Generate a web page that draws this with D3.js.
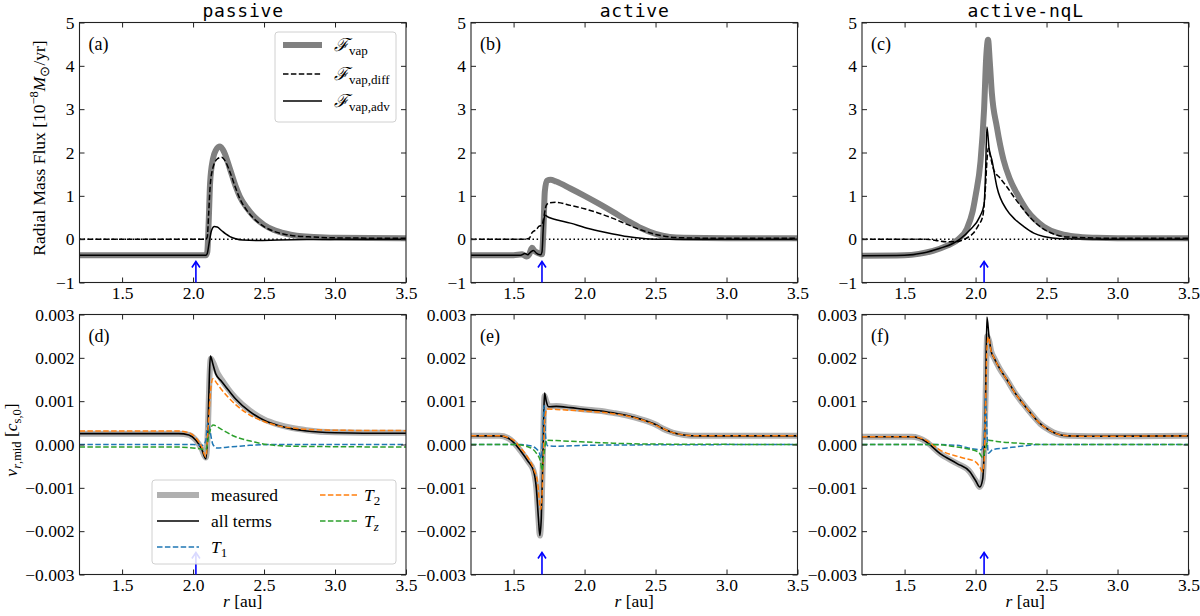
<!DOCTYPE html>
<html><head><meta charset="utf-8">
<script src="https://cdn.jsdelivr.net/npm/d3@7"></script>
<style>
body{margin:0;background:#fff;}
svg text{font-family:"Liberation Serif","Times New Roman",serif;fill:#000;}
</style></head><body>
<svg id="chart" width="1200" height="616"></svg>
<script>
// ---- data ----
const panelTitles = ['passive', 'active', 'active-nqL'];
const topLabels = ['(a)', '(b)', '(c)'];
const bottomLabels = ['(d)', '(e)', '(f)'];
const xTicks = [1.5, 2.0, 2.5, 3.0, 3.5];
const fluxTicks = [-1, 0, 1, 2, 3, 4, 5];
const velTicks = [-0.003, -0.002, -0.001, 0, 0.001, 0.002, 0.003];
const snowlineR = [2.02, 1.70, 2.06];

// top row: radial mass flux [1e-8 Msun/yr]
const passiveTot = [[1.2,-0.37],[2.09,-0.37],[2.10,-0.3],[2.11,0.4],[2.12,1.3],[2.14,1.85],[2.16,2.05],[2.19,2.14],[2.22,2.0],[2.26,1.62],[2.30,1.22],[2.33,0.98],[2.38,0.72],[2.43,0.52],[2.50,0.33],[2.57,0.21],[2.65,0.13],[2.73,0.08],[2.85,0.05],[3.0,0.03],[3.5,0.02]];
const passiveDiff = [[1.2,0],[2.09,0],[2.10,0.05],[2.11,0.6],[2.12,1.2],[2.14,1.65],[2.17,1.85],[2.20,1.89],[2.23,1.78],[2.26,1.55],[2.30,1.18],[2.33,0.93],[2.38,0.66],[2.43,0.47],[2.50,0.29],[2.57,0.18],[2.65,0.11],[2.73,0.07],[2.85,0.05],[3.0,0.03],[3.5,0.02]];
const passiveAdv = [[1.2,-0.37],[2.09,-0.37],[2.10,-0.33],[2.115,-0.05],[2.13,0.2],[2.15,0.29],[2.17,0.28],[2.20,0.2],[2.23,0.12],[2.26,0.06],[2.30,0.01],[2.35,-0.02],[2.45,-0.03],[2.6,-0.02],[2.8,-0.01],[3.0,0],[3.5,0]];

const activeTot = [[1.2,-0.37],[1.5,-0.37],[1.56,-0.35],[1.59,-0.40],[1.61,-0.35],[1.63,-0.2],[1.65,-0.28],[1.68,-0.33],[1.70,-0.35],[1.71,0.2],[1.72,1.1],[1.735,1.35],[1.76,1.37],[1.80,1.33],[1.90,1.17],[2.0,1.0],[2.1,0.82],[2.2,0.63],[2.3,0.43],[2.4,0.25],[2.5,0.12],[2.6,0.05],[2.7,0.03],[3.0,0.02],[3.5,0.02]];
const activeDiff = [[1.2,0],[1.58,0],[1.61,0.02],[1.63,0.15],[1.66,0.22],[1.68,0.3],[1.70,0.32],[1.71,0.45],[1.73,0.78],[1.75,0.84],[1.80,0.85],[1.9,0.78],[2.0,0.7],[2.1,0.6],[2.2,0.48],[2.3,0.34],[2.4,0.21],[2.5,0.11],[2.6,0.05],[2.7,0.03],[3.0,0.02],[3.5,0.02]];
const activeAdv = [[1.2,-0.37],[1.55,-0.37],[1.58,-0.33],[1.60,-0.36],[1.62,-0.30],[1.64,-0.26],[1.66,-0.32],[1.69,-0.36],[1.70,-0.3],[1.71,0.3],[1.72,0.55],[1.75,0.5],[1.8,0.45],[1.9,0.37],[2.0,0.27],[2.1,0.19],[2.2,0.12],[2.3,0.06],[2.4,0.02],[2.5,0.0],[3.0,0],[3.5,0]];

const nqlTot = [[1.2,-0.38],[1.5,-0.37],[1.6,-0.34],[1.7,-0.27],[1.8,-0.15],[1.88,0.0],[1.94,0.25],[1.98,0.65],[2.0,1.0],[2.035,1.8],[2.06,3.0],[2.075,4.2],[2.088,4.6],[2.10,4.1],[2.115,3.36],[2.15,2.59],[2.197,1.83],[2.24,1.4],[2.29,1.06],[2.36,0.675],[2.42,0.45],[2.48,0.29],[2.60,0.12],[2.7,0.06],[2.85,0.03],[3.0,0.02],[3.5,0.02]];
const nqlDiff = [[1.2,0],[1.65,0],[1.72,-0.03],[1.8,-0.06],[1.86,-0.06],[1.9,-0.03],[1.95,0.05],[1.985,0.14],[2.02,0.32],[2.05,0.52],[2.07,1.21],[2.08,1.8],[2.09,2.1],[2.105,1.9],[2.13,1.58],[2.17,1.42],[2.22,1.21],[2.28,0.93],[2.34,0.675],[2.40,0.45],[2.455,0.29],[2.55,0.12],[2.65,0.05],[3.0,0.02],[3.5,0.02]];
const nqlAdv = [[1.2,-0.38],[1.5,-0.37],[1.63,-0.32],[1.75,-0.21],[1.84,-0.1],[1.89,0.0],[1.96,0.21],[2.03,0.52],[2.06,0.8],[2.07,1.5],[2.08,2.59],[2.095,2.1],[2.115,1.83],[2.15,1.21],[2.22,0.675],[2.28,0.45],[2.34,0.29],[2.41,0.14],[2.48,0.06],[2.6,0.01],[3.0,0],[3.5,0]];

// bottom row: v_r,mid [c_s,0]
const passiveMeas = [[1.2,0.00025],[1.9,0.00025],[1.97,0.00022],[2.02,0.0001],[2.06,-0.0001],[2.09,-0.0003],[2.105,0.0004],[2.115,0.0015],[2.125,0.00198],[2.14,0.0019],[2.17,0.00166],[2.2,0.0015],[2.25,0.00127],[2.3,0.00107],[2.4,0.00078],[2.5,0.00058],[2.6,0.00046],[2.7,0.00038],[2.8,0.00033],[3.0,0.00028],[3.2,0.00027],[3.5,0.00027]];
const passiveAll = [[1.2,0.00025],[1.9,0.00025],[1.97,0.00022],[2.02,0.0001],[2.06,-0.0001],[2.09,-0.00033],[2.105,0.0004],[2.115,0.0016],[2.122,0.00204],[2.14,0.00185],[2.16,0.00163],[2.2,0.00146],[2.25,0.00125],[2.3,0.00105],[2.4,0.00076],[2.5,0.00056],[2.6,0.00044],[2.7,0.00036],[2.8,0.00031],[3.0,0.00027],[3.2,0.00026],[3.5,0.00026]];
const passiveT1 = [[1.2,0],[2.0,0],[2.07,-0.00002],[2.09,0.0001],[2.105,0.0005],[2.12,0.0003],[2.14,0.0],[2.17,-0.00008],[2.25,-0.00006],[2.4,-0.00002],[2.6,0],[3.5,0]];
const passiveT2 = [[1.2,0.00031],[1.9,0.00031],[1.97,0.00027],[2.02,0.00015],[2.06,-0.00005],[2.09,-0.00028],[2.11,0.0006],[2.125,0.0013],[2.14,0.00152],[2.17,0.0014],[2.2,0.00127],[2.25,0.00108],[2.3,0.00092],[2.4,0.00068],[2.5,0.00053],[2.6,0.00043],[2.7,0.00038],[2.8,0.00035],[3.0,0.00033],[3.5,0.00032]];
const passiveTz = [[1.2,-0.00006],[1.9,-0.00006],[2.05,-0.0001],[2.09,-0.00012],[2.11,0.0002],[2.14,0.00045],[2.2,0.00035],[2.29,0.00019],[2.43,0.00006],[2.52,0.0],[2.7,-0.00004],[3.0,-0.00005],[3.5,-0.00006]];

const activeMeas = [[1.2,0.0002],[1.4,0.0002],[1.46,0.00015],[1.5,0.00005],[1.55,-0.00015],[1.6,-0.00038],[1.64,-0.0006],[1.66,-0.001],[1.675,-0.0017],[1.685,-0.0021],[1.695,-0.0017],[1.705,-0.0005],[1.712,0.0006],[1.718,0.00112],[1.73,0.001],[1.75,0.00088],[1.8,0.00089],[1.9,0.00085],[2.0,0.00081],[2.1,0.00078],[2.2,0.00073],[2.3,0.00067],[2.4,0.00058],[2.5,0.00046],[2.55,0.00037],[2.6,0.0003],[2.65,0.00025],[2.7,0.00022],[2.8,0.0002],[3.0,0.0002],[3.5,0.0002]];
const activeAll = [[1.2,0.0002],[1.4,0.0002],[1.46,0.00015],[1.5,0.00005],[1.55,-0.00015],[1.6,-0.00038],[1.64,-0.0006],[1.66,-0.001],[1.675,-0.0017],[1.685,-0.0021],[1.695,-0.0017],[1.705,-0.0005],[1.712,0.0006],[1.718,0.00119],[1.73,0.001],[1.746,0.00087],[1.8,0.00088],[1.9,0.00085],[2.0,0.00081],[2.1,0.00078],[2.2,0.00073],[2.3,0.00067],[2.4,0.00058],[2.5,0.00046],[2.55,0.00037],[2.6,0.0003],[2.65,0.00025],[2.7,0.00022],[2.8,0.0002],[3.0,0.0002],[3.5,0.0002]];
const activeT1 = [[1.2,0],[1.55,0],[1.62,-0.00003],[1.66,-0.0001],[1.68,-0.00018],[1.695,-0.00032],[1.705,0.0002],[1.715,0.0009],[1.725,0.0002],[1.74,-0.00003],[1.8,-0.00004],[2.0,-0.00002],[2.3,-0.00001],[3.5,0]];
const activeT2 = [[1.2,0.0002],[1.4,0.0002],[1.46,0.00016],[1.5,0.0001],[1.55,-0.00008],[1.6,-0.0003],[1.64,-0.00055],[1.67,-0.0009],[1.69,-0.0015],[1.70,-0.0012],[1.71,-0.0002],[1.72,0.0006],[1.735,0.00082],[1.8,0.00081],[1.9,0.00079],[2.0,0.00077],[2.1,0.00075],[2.2,0.00071],[2.3,0.00066],[2.4,0.00057],[2.5,0.00045],[2.55,0.00037],[2.6,0.0003],[2.65,0.00025],[2.7,0.00022],[2.8,0.0002],[3.0,0.0002],[3.5,0.0002]];
const activeTz = [[1.2,0],[1.5,0],[1.6,-0.00005],[1.66,-0.0002],[1.69,-0.0004],[1.70,-0.0006],[1.715,-0.0002],[1.73,0.0001],[1.8,0.00009],[2.0,0.00006],[2.2,0.00003],[2.5,0.00001],[3.5,0]];

const nqlMeas = [[1.2,0.00018],[1.55,0.00018],[1.6,0.00015],[1.65,0.00007],[1.75,-0.00021],[1.87,-0.00044],[1.96,-0.00063],[2.0,-0.00083],[2.03,-0.00098],[2.05,-0.0008],[2.06,-0.0002],[2.07,0.001],[2.082,0.0025],[2.095,0.0024],[2.11,0.00215],[2.13,0.002],[2.17,0.00175],[2.22,0.0015],[2.28,0.00118],[2.335,0.00094],[2.4,0.00068],[2.455,0.00048],[2.52,0.00033],[2.57,0.00025],[2.65,0.0002],[2.8,0.00019],[3.5,0.0002]];
const nqlAll = [[1.2,0.00018],[1.55,0.00018],[1.6,0.00015],[1.65,0.00007],[1.75,-0.00021],[1.87,-0.00044],[1.96,-0.00063],[2.0,-0.00083],[2.03,-0.00098],[2.05,-0.0008],[2.06,-0.0002],[2.07,0.001],[2.08,0.00294],[2.095,0.00248],[2.11,0.00215],[2.13,0.002],[2.17,0.00175],[2.22,0.0015],[2.28,0.00118],[2.335,0.00094],[2.4,0.00068],[2.455,0.00048],[2.52,0.00033],[2.57,0.00025],[2.65,0.0002],[2.8,0.00019],[3.5,0.0002]];
const nqlT1 = [[1.2,0],[1.7,0],[1.87,-0.00002],[1.98,-0.0001],[2.04,-0.00012],[2.06,0.0001],[2.07,0.0011],[2.08,0.0003],[2.09,-0.0002],[2.12,-0.00012],[2.22,-0.00008],[2.35,-0.00003],[2.45,0],[3.5,0]];
const nqlT2 = [[1.2,0.00018],[1.55,0.00018],[1.65,0.0001],[1.75,-0.00013],[1.9,-0.0003],[2.0,-0.0004],[2.03,-0.00052],[2.05,-0.00063],[2.06,-0.0004],[2.07,0.0008],[2.08,0.0022],[2.09,0.00248],[2.11,0.00215],[2.13,0.002],[2.17,0.00175],[2.22,0.0015],[2.28,0.00118],[2.335,0.00094],[2.4,0.00068],[2.455,0.00048],[2.52,0.00033],[2.57,0.00025],[2.65,0.0002],[2.8,0.00019],[3.5,0.0002]];
const nqlTz = [[1.2,0],[1.7,0],[1.87,-0.00006],[2.02,-0.00017],[2.05,-0.0003],[2.07,-0.0001],[2.09,0.0001],[2.15,0.00007],[2.3,0.00003],[2.5,0],[3.5,0]];

// ---- layout ----
const svg = d3.select('#chart');
const colLeft = [79.5, 471, 862];
const plotW = 326.5;
const rowTop = [22.5, 314.5];
const plotH = 260;
const tickFont = 17.5;
const serif = '"Liberation Serif", "Times New Roman", serif';
const colors = {grey: '#808080', light: '#b0b0b0', t1: '#1f77b4', t2: '#ff7f0e', tz: '#2ca02c', arrow: '#0000ff'};
const dash = '5.5,2.4';

const topSeries = [
    [passiveTot, passiveDiff, passiveAdv],
    [activeTot, activeDiff, activeAdv],
    [nqlTot, nqlDiff, nqlAdv]
];
const bottomSeries = [
    [passiveMeas, passiveAll, passiveT1, passiveT2, passiveTz],
    [activeMeas, activeAll, activeT1, activeT2, activeTz],
    [nqlMeas, nqlAll, nqlT1, nqlT2, nqlTz]
];

function makePanel(col, row, yDomain, yTicks, yFmt, id) {
    const left = colLeft[col], top = rowTop[row];
    const x = d3.scaleLinear().domain([1.2, 3.5]).range([left, left + plotW]);
    const y = d3.scaleLinear().domain(yDomain).range([top + plotH, top]);
    const g = svg.append('g');
    g.append('clipPath').attr('id', id)
        .append('rect').attr('x', left).attr('y', top).attr('width', plotW).attr('height', plotH);
    const plot = g.append('g').attr('clip-path', `url(#${id})`);
    return {g, plot, x, y, left, top, yTicks, yFmt};
}

function drawAxes(p) {
    const axB = d3.axisBottom(p.x).tickValues(xTicks).tickSize(-5).tickPadding(4).tickFormat(d3.format('.1f'));
    const axT = d3.axisTop(p.x).tickValues(xTicks).tickSize(-5).tickFormat('');
    const axL = d3.axisLeft(p.y).tickValues(p.yTicks).tickSize(-5).tickPadding(5).tickFormat(p.yFmt);
    const axR = d3.axisRight(p.y).tickValues(p.yTicks).tickSize(-5).tickFormat('');
    const place = [
        [axB, `translate(0,${p.top + plotH})`],
        [axT, `translate(0,${p.top})`],
        [axL, `translate(${p.left},0)`],
        [axR, `translate(${p.left + plotW},0)`]
    ];
    place.forEach(([ax, tr]) => {
        const a = p.g.append('g').attr('transform', tr).call(ax);
        a.select('.domain').remove();
        a.selectAll('line').attr('stroke', '#222').attr('stroke-width', 1);
        a.selectAll('text').style('font-family', serif).style('font-size', tickFont + 'px').style('fill', '#000');
    });
    p.g.append('rect').attr('x', p.left).attr('y', p.top).attr('width', plotW).attr('height', plotH)
        .attr('fill', 'none').attr('stroke', '#222').attr('stroke-width', 1.1);
}

function drawLine(p, data, color, width, dasharray) {
    const line = d3.line().x(d => p.x(d[0])).y(d => p.y(d[1])).curve(d3.curveMonotoneX);
    p.plot.append('path').datum(data).attr('d', line)
        .attr('fill', 'none').attr('stroke', color).attr('stroke-width', width)
        .attr('stroke-linejoin', 'round')
        .attr('stroke-dasharray', dasharray || null);
}

function drawArrow(p, r, base, tipLen) {
    const xa = p.x(r), y0 = p.y(base), y1 = y0 - tipLen;
    const a = p.g.append('g').attr('stroke', colors.arrow).attr('stroke-width', 1.6).attr('fill', 'none');
    a.append('line').attr('x1', xa).attr('x2', xa).attr('y1', y0).attr('y2', y1 + 0.5);
    a.append('path').attr('d', `M${xa - 4},${y1 + 6}L${xa},${y1}L${xa + 4},${y1 + 6}`);
}

function panelLabel(p, txt) {
    p.g.append('text').attr('x', p.left + 9).attr('y', p.top + 27).style('font-size', '18px').text(txt);
}

// ---- top row ----
const topPanels = topSeries.map((s, i) => {
    const p = makePanel(i, 0, [-1, 5], fluxTicks, d3.format('d'), 'clipTop' + i);
    p.plot.append('line').attr('x1', p.x(1.2)).attr('x2', p.x(3.5)).attr('y1', p.y(0)).attr('y2', p.y(0))
        .attr('stroke', '#000').attr('stroke-width', 1.5).attr('stroke-dasharray', '1.5,2.6');
    drawLine(p, s[0], colors.grey, 6);
    drawLine(p, s[1], '#000', 1.5, dash);
    drawLine(p, s[2], '#000', 1.5);
    drawAxes(p);
    panelLabel(p, topLabels[i]);
    svg.append('text').attr('x', p.left + plotW / 2 + 0.4).attr('y', 17).attr('text-anchor', 'middle')
        .style('font-family', '"DejaVu Sans Mono", monospace').style('font-size', '18px').attr('letter-spacing', 0.8)
        .text(panelTitles[i]);
    return p;
});

// ---- bottom row ----
const bottomPanels = bottomSeries.map((s, i) => {
    const p = makePanel(i, 1, [-0.003, 0.003], velTicks, d3.format('.3f'), 'clipBot' + i);
    drawLine(p, s[0], colors.light, 6);
    drawLine(p, s[1], '#000', 1.6);
    drawLine(p, s[2], colors.t1, 1.5, dash);
    drawLine(p, s[3], colors.t2, 1.5, dash);
    drawLine(p, s[4], colors.tz, 1.5, dash);
    drawAxes(p);
    panelLabel(p, bottomLabels[i]);
    const xl = svg.append('text').attr('x', p.left + plotW / 2).attr('y', 607).attr('text-anchor', 'middle')
        .style('font-size', tickFont + 'px');
    xl.append('tspan').attr('font-style', 'italic').text('r');
    xl.append('tspan').text(' [au]');
    return p;
});

// ---- legends ----
function legendBox(x, y, w, h) {
    svg.append('rect').attr('x', x).attr('y', y).attr('width', w).attr('height', h).attr('rx', 3)
        .attr('fill', 'rgba(255,255,255,0.85)').attr('stroke', '#d0d0d0').attr('stroke-width', 1);
}
function legendLine(x1, x2, yy, color, width, dasharray) {
    svg.append('line').attr('x1', x1).attr('x2', x2).attr('y1', yy).attr('y2', yy)
        .attr('stroke', color).attr('stroke-width', width).attr('stroke-dasharray', dasharray || null);
}
function fluxLabel(x, yy, sub) {
    const t = svg.append('text').attr('x', x).attr('y', yy + 6).style('font-size', '18px');
    t.append('tspan').attr('font-style', 'italic').text('\u2131');
    t.append('tspan').attr('dy', 4).style('font-size', '13px').text(sub);
}
function termLabel(x, yy, sub, subItalic) {
    const t = svg.append('text').attr('x', x).attr('y', yy + 6).style('font-size', tickFont + 'px');
    t.append('tspan').attr('font-style', 'italic').text('T');
    t.append('tspan').attr('dy', 4).style('font-size', '13px').attr('font-style', subItalic ? 'italic' : null).text(sub);
}

legendBox(275, 32, 121, 90);
legendLine(283, 322, 45, colors.grey, 6);
fluxLabel(334, 45, 'vap');
legendLine(283, 322, 74, '#000', 1.5, dash);
fluxLabel(334, 74, 'vap,diff');
legendLine(283, 322, 101, '#000', 1.5);
fluxLabel(334, 101, 'vap,adv');

legendBox(152, 480, 244, 84);
legendLine(157, 199, 495, colors.light, 6);
svg.append('text').attr('x', 211).attr('y', 501).style('font-size', tickFont + 'px').text('measured');
legendLine(157, 199, 521, '#000', 1.6);
svg.append('text').attr('x', 211).attr('y', 527).style('font-size', tickFont + 'px').text('all terms');
legendLine(157, 199, 547, colors.t1, 1.5, dash);
termLabel(211, 547, '1');
legendLine(320, 357, 495, colors.t2, 1.5, dash);
termLabel(364, 495, '2');
legendLine(320, 357, 521, colors.tz, 1.5, dash);
termLabel(364, 521, 'z', true);

// ---- snow-line arrows ----
topPanels.forEach((p, i) => drawArrow(p, snowlineR[i], -1, 21));
bottomPanels.forEach((p, i) => drawArrow(p, snowlineR[i], -0.003, 22));

// ---- y labels ----
const yl1 = svg.append('text').attr('transform', 'translate(45,148) rotate(-90)').attr('text-anchor', 'middle')
    .style('font-size', tickFont + 'px');
yl1.append('tspan').text('Radial Mass Flux [10');
yl1.append('tspan').attr('dy', -7).style('font-size', '12.5px').text('\u22128');
yl1.append('tspan').attr('dy', 7).attr('font-style', 'italic').text('M');
yl1.append('tspan').attr('dy', 4).style('font-size', '12.5px').text('\u2299');
yl1.append('tspan').attr('dy', -4).text('/yr]');

const yl2 = svg.append('text').attr('transform', 'translate(17,440) rotate(-90)').attr('text-anchor', 'middle')
    .style('font-size', tickFont + 'px');
yl2.append('tspan').attr('font-style', 'italic').text('v');
yl2.append('tspan').attr('dy', 4).style('font-size', '12.5px').attr('font-style', 'italic').text('r');
yl2.append('tspan').style('font-size', '12.5px').text(',mid');
yl2.append('tspan').attr('dy', -4).text(' [');
yl2.append('tspan').attr('font-style', 'italic').text('c');
yl2.append('tspan').attr('dy', 4).style('font-size', '12.5px').text('s,0');
yl2.append('tspan').attr('dy', -4).text(']');
</script></body></html>
